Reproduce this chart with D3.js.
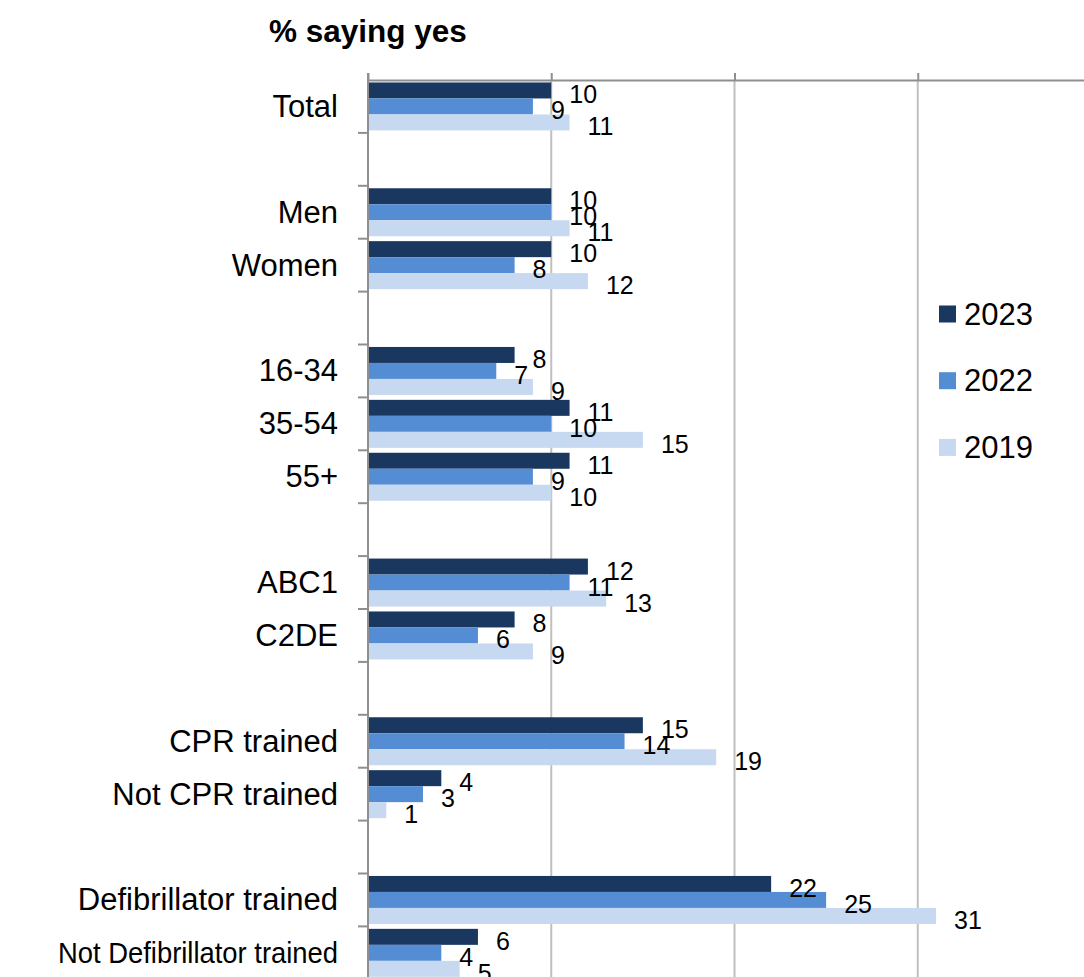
<!DOCTYPE html>
<html>
<head>
<meta charset="utf-8">
<script src="https://cdn.jsdelivr.net/npm/d3@7"></script>
<style>
  body { margin: 0; background: #fff; }
  svg { display: block; font-family: "Liberation Sans", Arial, sans-serif; }
</style>
</head>
<body>
<svg id="chart"></svg>
<script>
// rows top to bottom, "" = empty spacer row
const categories = ["Total", "", "Men", "Women", "", "16-34", "35-54", "55+", "",
  "ABC1", "C2DE", "", "CPR trained", "Not CPR trained", "",
  "Defibrillator trained", "Not Defibrillator trained"];
const series = ["2023", "2022", "2019"];
const values2023 = [10, null, 10, 10, null, 8, 11, 11, null, 12, 8, null, 15, 4, null, 22, 6];
const values2022 = [9, null, 10, 8, null, 7, 10, 9, null, 11, 6, null, 14, 3, null, 25, 4];
const values2019 = [11, null, 11, 12, null, 9, 15, 10, null, 13, 9, null, 19, 1, null, 31, 5];
const xTicks = [0, 10, 20, 30, 40];
const colors = ["#1a3760", "#548dd4", "#c6d9f0"];

const W = 1084, H = 977;
const margin = { top: 80, left: 368 };
const rowStep = 52.9;
const plotH = rowStep * categories.length;

const svg = d3.select("#chart").attr("width", W).attr("height", H);

const x = d3.scaleLinear().domain([0, 40]).range([margin.left, margin.left + 733]);
const y = d3.scaleBand().domain(d3.range(categories.length))
  .range([margin.top, margin.top + plotH]).paddingInner(0.093).paddingOuter(0.0465);
const ySub = d3.scaleBand().domain(series).range([0, y.bandwidth()]);

const allValues = [values2023, values2022, values2019];

// gridlines
svg.append("g")
  .selectAll("line")
  .data(xTicks.slice(1))
  .join("line")
  .attr("x1", d => x(d)).attr("x2", d => x(d))
  .attr("y1", margin.top).attr("y2", H)
  .attr("stroke", "#c0c0c0").attr("stroke-width", 2);

// top value axis (ticks only, no labels)
const xAxis = svg.append("g")
  .attr("transform", `translate(0,${margin.top})`)
  .call(d3.axisTop(x).tickValues(xTicks).tickSize(7).tickSizeOuter(0).tickFormat(""));
xAxis.select(".domain").attr("stroke", "#8f8f8f").attr("stroke-width", 2)
  .attr("d", `M${margin.left},0.5H${W}`);
xAxis.selectAll(".tick line").attr("stroke", "#8f8f8f").attr("stroke-width", 2);

const rowsFor = si => categories.map((c, i) => ({ i, v: allValues[si][i], s: series[si] }))
  .filter(d => d.v != null);

// bars
series.forEach((s, si) => {
  svg.append("g")
    .selectAll("rect")
    .data(rowsFor(si))
    .join("rect")
    .attr("x", x(0))
    .attr("y", d => y(d.i) + ySub(s))
    .attr("width", d => x(d.v) - x(0))
    .attr("height", ySub.bandwidth())
    .attr("fill", colors[si]);
});

// value labels on top of all bars
series.forEach((s, si) => {
  svg.append("g")
    .selectAll("text")
    .data(rowsFor(si))
    .join("text")
    .attr("x", d => x(d.v) + 18)
    .attr("y", d => y(d.i) + ySub(s) + ySub.bandwidth() / 2 + 4)
    .attr("dominant-baseline", "central")
    .attr("font-size", 25)
    .attr("fill", "#000")
    .text(d => d.v);
});

// category axis
const yAxis = svg.append("g").attr("transform", `translate(${margin.left},0)`);
yAxis.append("line")
  .attr("x1", 0).attr("x2", 0).attr("y1", margin.top - 7).attr("y2", H)
  .attr("stroke", "#8f8f8f").attr("stroke-width", 2);
yAxis.selectAll(".cat-tick")
  .data(d3.range(1, categories.length + 1))
  .join("line")
  .attr("class", "cat-tick")
  .attr("x1", -10).attr("x2", 0)
  .attr("y1", d => margin.top + d * rowStep).attr("y2", d => margin.top + d * rowStep)
  .attr("stroke", "#8f8f8f").attr("stroke-width", 2);
yAxis.selectAll(".cat-label")
  .data(categories.map((c, i) => ({ c, i })).filter(d => d.c !== ""))
  .join("text")
  .attr("class", "cat-label")
  .attr("x", -30)
  .attr("y", d => y(d.i) + y.bandwidth() / 2)
  .attr("dominant-baseline", "central")
  .attr("text-anchor", "end")
  .attr("font-size", 31)
  .attr("fill", "#000")
  .text(d => d.c)
  .each(function () {
    // long labels get a smaller font and are fitted to the left margin
    const maxW = 280;
    if (this.getComputedTextLength() > maxW) {
      d3.select(this).attr("font-size", 29)
        .attr("textLength", maxW).attr("lengthAdjust", "spacingAndGlyphs");
    }
  });

// title
svg.append("text")
  .attr("x", 269).attr("y", 42)
  .attr("font-size", 31.5).attr("font-weight", "bold")
  .text("% saying yes");

// legend
const legend = svg.append("g").attr("transform", "translate(939,314)");
series.forEach((s, si) => {
  const g = legend.append("g").attr("transform", `translate(0,${si * 66.7})`);
  g.append("rect").attr("x", 0).attr("y", -8.5).attr("width", 17).attr("height", 17).attr("fill", colors[si]);
  g.append("text").attr("x", 25).attr("y", 0)
    .attr("dominant-baseline", "central").attr("font-size", 31).text(s);
});
</script>
</body>
</html>
